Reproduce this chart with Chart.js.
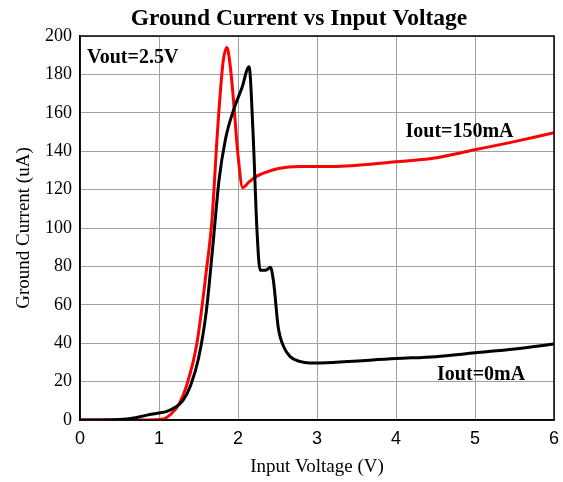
<!DOCTYPE html>
<html>
<head>
<meta charset="utf-8">
<script src="https://cdn.jsdelivr.net/npm/chart.js@4/dist/chart.umd.min.js"></script>
<style>
  html, body { margin: 0; padding: 0; background: #fff; }
  #wrap { width: 563px; height: 482px; }
</style>
</head>
<body>
<div id="wrap"><canvas id="myChart" width="563" height="482"></canvas></div>
<script>
// values (V, uA)
const xTicks = [0, 1, 2, 3, 4, 5, 6]
const yTicks = [0, 20, 40, 60, 80, 100, 120, 140, 160, 180, 200]

const vin0 = [0, 0.5, 0.7, 0.9, 1.0, 1.1, 1.2, 1.3, 1.4, 1.5, 1.6, 1.68, 1.76, 1.84, 1.94, 2.05, 2.14, 2.19, 2.24, 2.28, 2.35, 2.41, 2.45, 2.51, 2.58, 2.66, 2.78, 2.91, 3.2, 4.0, 4.5, 5.0, 5.5, 6.0]
const ig0 = [0, 0.3, 1.2, 3, 3.6, 4.5, 6.5, 10, 18, 32, 57, 90, 125, 146, 161, 173, 184, 150, 99, 78, 78, 79.5, 72, 48, 38, 33, 30.5, 29.7, 30, 32, 33, 35, 37, 39.6]

const vin150 = [0, 0.8, 1.05, 1.15, 1.25, 1.35, 1.48, 1.6, 1.67, 1.74, 1.81, 1.86, 1.9, 1.94, 2.0, 2.06, 2.14, 2.24, 2.35, 2.51, 2.78, 3.2, 4.0, 4.47, 4.98, 5.5, 6.0]
const ig150 = [0, 0, 0.5, 3, 8, 18, 40, 78, 104, 150, 186, 194, 185, 168, 138, 121, 124, 127, 129, 131, 132, 132, 134.5, 136.3, 140.6, 145, 149.6]

const names = ['Iout=0mA', 'Iout=150mA']
const colors = ['#000000', '#ff0000']

function pts(xs, ys) {
    return xs.map((x, i) => ({x: x, y: ys[i]}))
}

// box round the plot, title and the curve labels
const textPlugin = {
    id: 'texts',
    afterDatasetsDraw(chart) {
        const a = chart.chartArea
        const c = chart.ctx
        c.save()
        c.strokeStyle = '#000'
        c.lineWidth = 1.5
        c.strokeRect(a.left, a.top, a.right - a.left, a.bottom - a.top)
        c.restore()
    },
    afterDraw(chart) {
        const c = chart.ctx
        const xs = chart.scales.x
        const ys = chart.scales.y
        c.save()
        c.fillStyle = '#000'
        c.textBaseline = 'middle'
        c.font = 'bold 23.5px "Liberation Serif"'
        c.textAlign = 'center'
        c.fillText('Ground Current vs Input Voltage', 299, 18.5)
        c.textAlign = 'left'
        c.font = 'bold 20px "Liberation Serif"'
        c.fillText('Vout=2.5V', xs.getPixelForValue(0.09), ys.getPixelForValue(188.5))
        c.fillText(names[1], xs.getPixelForValue(4.12), ys.getPixelForValue(150))
        c.fillText(names[0], xs.getPixelForValue(4.52), ys.getPixelForValue(23.5))
        c.restore()
    }
}

new Chart(document.getElementById('myChart'), {
    type: 'scatter',
    data: {
        datasets: [
            {label: names[0], data: pts(vin0, ig0), borderColor: colors[0], showLine: true, pointRadius: 0, borderWidth: 3, cubicInterpolationMode: 'monotone'},
            {label: names[1], data: pts(vin150, ig150), borderColor: colors[1], showLine: true, pointRadius: 0, borderWidth: 3, cubicInterpolationMode: 'monotone'}
        ]
    },
    options: {
        responsive: false,
        animation: false,
        layout: { padding: { top: 36, right: 9, left: 0, bottom: 0 } },
        plugins: { legend: { display: false }, title: { display: false }, tooltip: { enabled: false } },
        scales: {
            x: {
                type: 'linear', min: 0, max: 6,
                afterBuildTicks: ax => { ax.ticks = xTicks.map(v => ({value: v})) },
                afterFit: ax => { ax.height = 62; ax.paddingLeft = 0; ax.paddingRight = 0 },
                grid: { color: '#a0a0a0', lineWidth: 1, drawTicks: false },
                border: { color: '#000', width: 1.5 },
                ticks: { color: '#000', font: { family: '"Liberation Sans"', size: 18 }, padding: 8 },
                title: { display: true, text: 'Input Voltage (V)', color: '#000', font: { family: '"Liberation Serif"', size: 19 }, padding: { top: 2 } }
            },
            y: {
                min: 0, max: 200,
                afterBuildTicks: ax => { ax.ticks = yTicks.map(v => ({value: v})) },
                afterFit: ax => { ax.width = 80 },
                grid: { color: '#a0a0a0', lineWidth: 1, drawTicks: false },
                border: { color: '#000', width: 1.5 },
                ticks: { color: '#000', font: { family: '"Liberation Serif"', size: 18 }, padding: 8 },
                title: { display: true, text: 'Ground Current (uA)', color: '#000', font: { family: '"Liberation Serif"', size: 19 }, padding: { top: 13, bottom: 4 } }
            }
        }
    },
    plugins: [textPlugin]
})
</script>
</body>
</html>
